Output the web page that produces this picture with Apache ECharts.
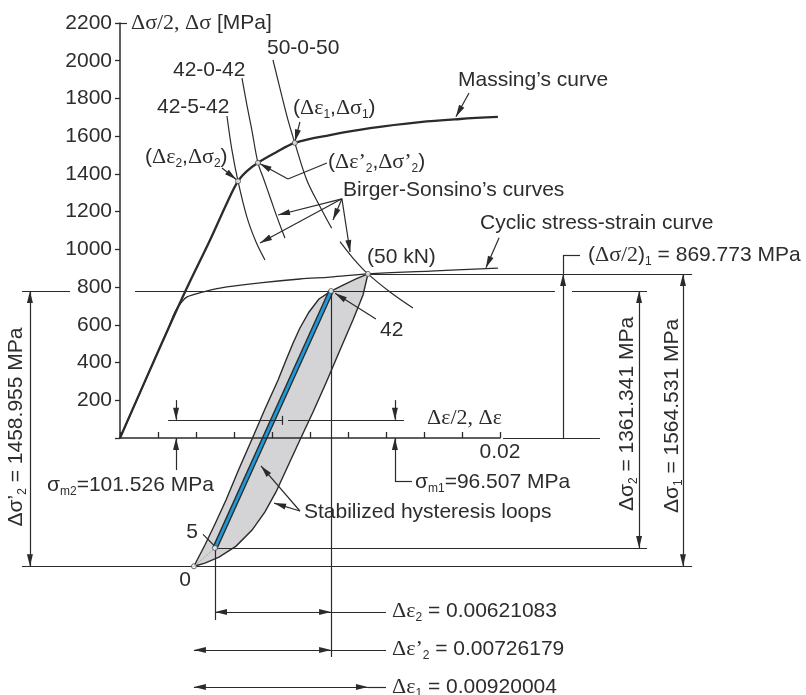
<!DOCTYPE html>
<html>
<head>
<meta charset="utf-8">
<script src="https://cdn.jsdelivr.net/npm/echarts@6/dist/echarts.min.js"></script>
<style>
html, body { margin: 0; padding: 0; background: #fff; }
#chart { width: 806px; height: 695px; }
</style>
</head>
<body>
<div id="chart"></div>
<script>
// values are [strain, stress in MPa]
const stressTicks = [0, 200, 400, 600, 800, 1000, 1200, 1400, 1600, 1800, 2000, 2200];
const strainTicks = [0, 0.002, 0.004, 0.006, 0.008, 0.01, 0.012, 0.014, 0.016, 0.018, 0.02];
const strainLabels = ['0.02'];

const massingCurve = [[0, 0], [0.00211, 482], [0.00342, 774], [0.00474, 1050], [0.00563, 1246],
    [0.00621083, 1361.341], [0.00668, 1415], [0.00726179, 1458.955], [0.00816, 1511],
    [0.00920004, 1564.531], [0.01105, 1606], [0.01316, 1643], [0.01579, 1675], [0.01789, 1691], [0.01989, 1702]];
const cyclicCurve = [[0, 0], [0.00211, 482], [0.00253, 578], [0.00289, 668], [0.00321, 716], [0.00353, 748],
    [0.00437, 774], [0.00526, 795], [0.00737, 822], [0.00947, 843], [0.01105, 853], [0.01305, 869.773],
    [0.01632, 885], [0.01989, 901]];
const birger42_5_42 = [[0.00563, 1707], [0.00589, 1527], [0.00621083, 1361.341], [0.00668, 1171],
    [0.00716, 1039], [0.00763, 944]];
const birger42_0_42 = [[0.00642, 1908], [0.00667, 1770], [0.00693, 1638], [0.00726179, 1458.955],
    [0.00758, 1368], [0.00789, 1279], [0.00826, 1172], [0.00868, 1060]];
const birger50Upper = [[0.00805, 2004], [0.00853, 1808], [0.00884, 1686], [0.00920004, 1564.531],
    [0.00983, 1368], [0.01053, 1226], [0.01114, 1112]];
const birger50Lower = [[0.01158, 1041], [0.01226, 954], [0.01305, 869.773], [0.01421, 774], [0.01542, 689]];

// (Δε2,Δσ2), (Δε'2,Δσ'2), (Δε1,Δσ1)
const rangePoints = [[0.00621083, 1361.341], [0.00726179, 1458.955], [0.00920004, 1564.531]];
// loop corners: 0, 5, 42, 50 kN
const loopPoints = [[0.00389, -680], [0.00500, -583], [0.01111, 779], [0.01305, 869.773]];
const meanStress = [101.526, 96.507];
const loopOutline = [[0.00389, -680], [0.00447, -567], [0.00500, -456], [0.00558, -329], [0.00626, -164],
    [0.00695, -5], [0.00763, 154], [0.00832, 307], [0.00874, 413], [0.00911, 504], [0.00947, 583],
    [0.00995, 668], [0.01047, 737], [0.01111, 779], [0.01174, 811], [0.01242, 843], [0.01305, 869.773],
    [0.01279, 758], [0.01226, 626], [0.01158, 467], [0.01084, 292], [0.01016, 138], [0.00947, -11],
    [0.00879, -159], [0.00821, -286], [0.00763, -392], [0.00695, -488], [0.00611, -573], [0.00521, -631],
    [0.00447, -663]];

const W = 806, H = 695;
const INK = '#2b2b2b';
const TXT = '#2d2d2d';
const AX = { left: 120, top: 23, width: 380, height: 415 };
const pxPerStrain = AX.width / strainTicks[strainTicks.length - 1];
const pxPerStress = AX.height / stressTicks[stressTicks.length - 1];
const x0 = AX.left, y0 = AX.top + AX.height;

const [O, P5, T42, T50] = loopPoints;
const sm = meanStress[1];
// arrow head whose tip sits in the middle of the symbol box
const ARROW = 'path://M5,0L5.01,0L5,0.01Z M5,24L10,48L0,48Z';

function seg(a, b, arrA, arrB) {
    return [
        { coord: a, symbol: arrA ? ARROW : 'none' },
        { coord: b, symbol: arrB ? ARROW : 'none' }
    ];
}

const guides = [
    seg([0, 2200], [0.00037, 2200]),
    // stress levels
    seg([-0.00516, T42[1]], [-0.00263, T42[1]]),
    seg([0.00079, T42[1]], [0.02289, T42[1]]),
    seg([0.02379, T42[1]], [0.02774, T42[1]]),
    seg([-0.00516, O[1]], [0.03011, O[1]]),
    seg(P5, [0.02774, P5[1]]),
    seg(T50, [0.03011, T50[1]]),
    // strain levels
    seg(O, [O[0], -1370]),
    seg(P5, [P5[0], -965]),
    seg(T42, [T42[0], -1161]),
    seg(T50, [T50[0], -1370]),
    // stress ranges
    seg([-0.00474, T42[1]], [-0.00474, O[1]], 1, 1),
    seg([0.02732, T42[1]], [0.02732, P5[1]], 1, 1),
    seg([0.02963, T50[1]], [0.02963, O[1]], 1, 1),
    seg([0.02332, 0], [0.02332, T50[1]], 0, 1),
    seg([0.02332, T50[1]], [0.02332, 970]),
    seg([0.02332, 970], [0.02421, 970]),
    seg([0.02016, 0], [0.02526, 0]),
    // strain ranges
    seg([P5[0], -922], [T42[0], -922], 1, 1),
    seg([T42[0], -922], [0.0140, -922]),
    seg([O[0], -1124], [T42[0], -1124], 1, 1),
    seg([T42[0], -1124], [0.0140, -1124]),
    seg([O[0], -1320], [T50[0], -1320], 1, 1),
    seg([T50[0], -1320], [0.0140, -1320]),
    // mean stress
    seg([0.00253, sm], [0.00858, sm]),
    seg([0.00884, sm], [0.01495, sm]),
    seg([0.00853, sm + 21], [0.00853, sm - 27]),
    seg([0.00295, 201], [0.00295, sm], 0, 1),
    seg([0.00295, -170], [0.00295, 0], 0, 1),
    seg([0.01447, 201], [0.01447, sm], 0, 1),
    seg([0.01447, -228], [0.01447, 0], 0, 1),
    seg([0.01447, -228], [0.01537, -228]),
    // leaders
    seg([0.01168, 1268], [0.00832, 1182], 0, 1),
    seg([0.01168, 1268], [0.00737, 1034], 0, 1),
    seg([0.01168, 1268], [0.01121, 1156], 0, 1),
    seg([0.01168, 1268], [0.01211, 986], 0, 1),
    seg([0.00537, 1431], [0.00612, 1370], 0, 1),
    seg([0.01089, 1458], [0.00884, 1373]),
    seg([0.00884, 1373], [0.00735, 1455], 0, 1),
    seg([0.00947, 1676], [0.00921, 1572], 0, 1),
    seg([0.01837, 1829], [0.01768, 1703], 0, 1),
    seg([0.01995, 1061], [0.01926, 902], 0, 1),
    seg([0.01347, 631], [0.01132, 767], 0, 1),
    seg([0.00947, -387], [0.00742, -148], 0, 1),
    seg([0.00947, -387], [0.00811, -345], 0, 1),
    seg([0.00437, -511], [0.00495, -570])
];

const rich = {
    g: { fontFamily: 'Liberation Serif', fontSize: 22, lineHeight: 26, fill: TXT },
    b: { fontFamily: 'Liberation Sans', fontSize: 12, lineHeight: 12, verticalAlign: 'bottom', fill: TXT }
};

function label(x, y, text, align, rotation) {
    return {
        type: 'text', x: x, y: y, rotation: rotation || 0, z: 100, silent: true,
        style: {
            text: text, rich: rich, fill: TXT,
            fontFamily: 'Liberation Sans', fontSize: 21, lineHeight: 26,
            textAlign: align || 'left', align: align || 'left',
            textVerticalAlign: 'middle', verticalAlign: 'middle'
        }
    };
}

const texts = [
    label(131, 23, '{g|Δσ/2, Δσ} [MPa]'),
    label(267, 48, '50-0-50'),
    label(173, 70, '42-0-42'),
    label(157, 107, '42-5-42'),
    label(293, 108, '({g|Δε}{b|1},{g|Δσ}{b|1})'),
    label(145, 157, '({g|Δε}{b|2},{g|Δσ}{b|2})'),
    label(328, 162, '({g|Δε’}{b|2},{g|Δσ’}{b|2})'),
    label(343, 190, 'Birger-Sonsino’s curves'),
    label(458, 80, 'Massing’s curve'),
    label(480, 223, 'Cyclic stress-strain curve'),
    label(367, 257, '(50 kN)'),
    label(588, 255, '({g|Δσ/2}){b|1} = 869.773 MPa'),
    label(380, 330, '42'),
    label(427, 418, '{g|Δε/2, Δε}'),
    label(47, 485, 'σ{b|m2}=101.526 MPa'),
    label(415, 482, 'σ{b|m1}=96.507 MPa'),
    label(304, 512, 'Stabilized hysteresis loops'),
    label(192, 532, '5', 'center'),
    label(185, 580, '0', 'center'),
    label(392, 611, '{g|Δε}{b|2} = 0.00621083'),
    label(392, 649, '{g|Δε’}{b|2} = 0.00726179'),
    label(392, 687, '{g|Δε}{b|1} = 0.00920004'),
    label(16, 427, 'Δσ’{b|2} = 1458.955 MPa', 'center', Math.PI / 2),
    label(627, 414, 'Δσ{b|2} = 1361.341 MPa', 'center', Math.PI / 2),
    label(672, 416, 'Δσ{b|1} = 1564.531 MPa', 'center', Math.PI / 2)
];

function curve(data, width) {
    return {
        type: 'line', xAxisIndex: 1, yAxisIndex: 1, data: data, z: 3,
        symbol: 'none', smooth: 0.35, silent: true,
        lineStyle: { color: INK, width: width }
    };
}

const chart = echarts.init(document.getElementById('chart'), null, { renderer: 'canvas' });

chart.setOption({
    animation: false,
    backgroundColor: '#fff',
    textStyle: { fontFamily: 'Liberation Sans' },
    grid: [
        { left: AX.left, top: AX.top, width: AX.width, height: AX.height },
        { left: 0, top: 0, width: W, height: H }
    ],
    xAxis: [
        {
            gridIndex: 0, type: 'value', z: 3,
            min: strainTicks[0], max: strainTicks[strainTicks.length - 1],
            interval: strainTicks[1] - strainTicks[0],
            axisLine: { lineStyle: { color: INK, width: 1.5 } },
            axisTick: { inside: true, length: 6, lineStyle: { color: INK, width: 1.3 } },
            splitLine: { show: false },
            axisLabel: {
                margin: 4, color: TXT, fontSize: 21, fontFamily: 'Liberation Sans',
                formatter: v => strainLabels.find(l => Math.abs(parseFloat(l) - v) < 1e-9) || ''
            }
        },
        {
            gridIndex: 1, type: 'value', show: false,
            min: -x0 / pxPerStrain, max: (W - x0) / pxPerStrain
        }
    ],
    yAxis: [
        {
            gridIndex: 0, type: 'value', z: 3,
            min: stressTicks[0], max: stressTicks[stressTicks.length - 1],
            interval: stressTicks[1] - stressTicks[0],
            axisLine: { show: true, lineStyle: { color: INK, width: 1.5 } },
            axisTick: { show: true, length: 5, lineStyle: { color: INK, width: 1.3 } },
            splitLine: { show: false },
            axisLabel: {
                margin: 8, color: TXT, fontSize: 21, fontFamily: 'Liberation Sans',
                formatter: v => (v === 0 ? '' : String(v))
            }
        },
        {
            gridIndex: 1, type: 'value', show: false,
            min: -(H - y0) / pxPerStress, max: y0 / pxPerStress
        }
    ],
    series: [
        {
            type: 'custom', xAxisIndex: 1, yAxisIndex: 1, z: 1, silent: true,
            data: [0],
            renderItem: (params, api) => ({
                type: 'polygon',
                shape: { points: loopOutline.map(p => api.coord(p)) },
                style: { fill: '#d4d4d6', stroke: INK, lineWidth: 1.4 }
            })
        },
        {
            type: 'line', xAxisIndex: 1, yAxisIndex: 1, z: 2, symbol: 'none', silent: true,
            data: [O, P5],
            lineStyle: { color: '#9a9a9a', width: 1, type: 'dotted' }
        },
        {
            type: 'line', xAxisIndex: 1, yAxisIndex: 1, z: 2, symbol: 'none', silent: true,
            data: [P5, T42],
            lineStyle: { color: INK, width: 5.5 }
        },
        {
            type: 'line', xAxisIndex: 1, yAxisIndex: 1, z: 2, symbol: 'none', silent: true,
            data: [P5, T42],
            lineStyle: { color: '#1f98d5', width: 2.8 }
        },
        curve(massingCurve, 2.3),
        curve(cyclicCurve, 1.3),
        curve(birger42_5_42, 1.2),
        curve(birger42_0_42, 1.2),
        curve(birger50Upper, 1.2),
        curve(birger50Lower, 1.2),
        {
            type: 'line', xAxisIndex: 1, yAxisIndex: 1, z: 4, data: [], silent: true,
            markLine: {
                silent: true, animation: false,
                symbol: 'none', symbolSize: [6, 24],
                label: { show: false },
                emphasis: { disabled: true },
                lineStyle: { color: INK, width: 1.2, type: 'solid' },
                data: guides
            }
        },
        {
            type: 'scatter', xAxisIndex: 1, yAxisIndex: 1, z: 5, silent: true,
            data: rangePoints.concat(loopPoints),
            symbolSize: 5,
            itemStyle: { color: '#fff', borderColor: '#444', borderWidth: 1 }
        }
    ],
    graphic: texts
});
</script>
</body>
</html>
